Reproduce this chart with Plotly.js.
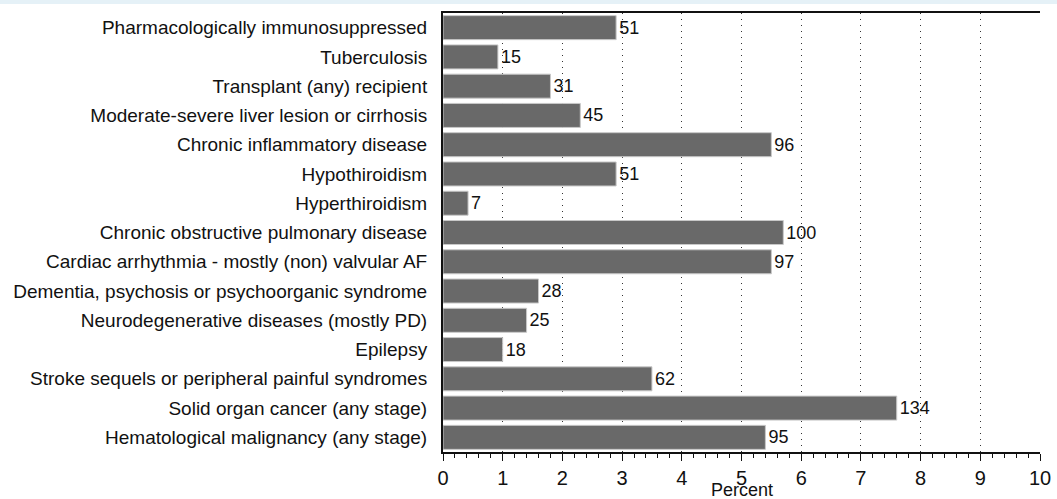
<!DOCTYPE html>
<html><head><meta charset="utf-8">
<script src="https://cdn.plot.ly/plotly-3.0.1.min.js"></script>
<style>
html,body{margin:0;padding:0;background:#fff;overflow:hidden;}
#strip{position:absolute;left:0;top:0;width:1057px;height:4px;background:#e5f1f7;z-index:10;}
#chart{width:1057px;height:499px;}
</style></head>
<body>
<div id="strip"></div>
<div id="chart"></div>
<script>
const categories = [
  "Pharmacologically immunosuppressed",
  "Tuberculosis",
  "Transplant (any) recipient",
  "Moderate-severe liver lesion or cirrhosis",
  "Chronic inflammatory disease",
  "Hypothiroidism",
  "Hyperthiroidism",
  "Chronic obstructive pulmonary disease",
  "Cardiac arrhythmia - mostly (non) valvular AF",
  "Dementia, psychosis or psychoorganic syndrome",
  "Neurodegenerative diseases (mostly PD)",
  "Epilepsy",
  "Stroke sequels or peripheral painful syndromes",
  "Solid organ cancer (any stage)",
  "Hematological malignancy (any stage)"
];
const percents = [2.9, 0.92, 1.8, 2.3, 5.5, 2.9, 0.42, 5.7, 5.5, 1.6, 1.4, 1.0, 3.5, 7.6, 5.4];
const counts = [51, 15, 31, 45, 96, 51, 7, 100, 97, 28, 25, 18, 62, 134, 95];
const xTicks = [0,1,2,3,4,5,6,7,8,9,10];
const xTitle = 'Percent';

const FONT = 'Liberation Sans, Arial, sans-serif';

const trace = {
  type: 'bar',
  orientation: 'h',
  y: categories,
  x: percents,
  text: counts.map(String),
  textposition: 'outside',
  cliponaxis: false,
  textfont: {family: FONT, size: 18, color: '#111'},
  marker: {color: '#696969', line: {color: '#c8c8c8', width: 1}},
  hoverinfo: 'none'
};

const layout = {
  width: 1057, height: 499,
  margin: {l: 443, r: 17, t: 13, b: 47},
  paper_bgcolor: '#fff', plot_bgcolor: '#fff',
  bargap: 0.18,
  showlegend: false,
  font: {family: FONT, size: 19, color: '#111'},
  xaxis: {
    range: [0, 10],
    tickmode: 'array', tickvals: xTicks, ticktext: xTicks.map(String),
    ticks: 'outside', ticklen: 7, tickwidth: 1, tickcolor: '#111',
    minor: {dtick: 0.2, ticks: 'outside', ticklen: 4, tickcolor: '#111', showgrid: false},
    showline: true, linecolor: '#111', linewidth: 2, mirror: true,
    showgrid: true, gridcolor: '#333', gridwidth: 1, griddash: '1px,5px',
    zeroline: false,
    tickfont: {size: 20}
  },
  yaxis: {
    autorange: 'reversed',
    showline: true, linecolor: '#111', linewidth: 2,
    ticks: '', showgrid: false, zeroline: false,
    ticklabelstandoff: 10,
    tickfont: {size: 19}
  },
  annotations: [{
    text: xTitle, xref: 'paper', yref: 'paper', x: 0.5, y: 0,
    xanchor: 'center', yanchor: 'top', yshift: -26, showarrow: false,
    font: {family: FONT, size: 18, color: '#111'}
  }]
};

Plotly.newPlot('chart', [trace], layout, {displayModeBar: false, staticPlot: true});
</script>
</body></html>
